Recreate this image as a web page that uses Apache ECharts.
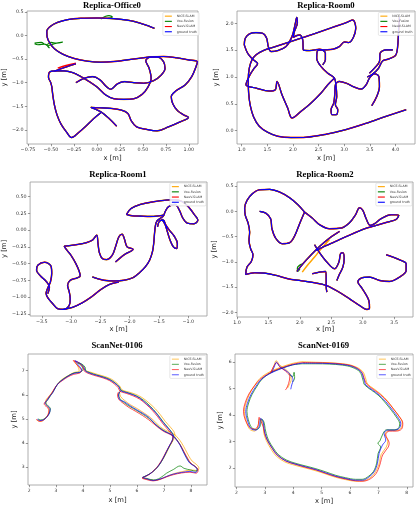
<!DOCTYPE html>
<html><head><meta charset="utf-8">
<script src="https://cdn.jsdelivr.net/npm/echarts@6/dist/echarts.min.js"></script>
<style>html,body{margin:0;padding:0;background:#fff}#c{width:416px;height:506px}</style>
</head><body><div id="c"></div>
<script>
const methods = ['NICE-SLAM','Vox-Fusion','NeuV-SLAM','ground truth'];
const titles = ['Replica-Office0','Replica-Room0','Replica-Room1','Replica-Room2','ScanNet-0106','ScanNet-0169'];

// ---------- tick values ----------
const office0XTicks = [-0.75,-0.5,-0.25,0,0.25,0.5,0.75,1.0];
const office0YTicks = [-2.0,-1.5,-1.0,-0.5,0.0,0.5];
const room0XTicks = [1.0,1.5,2.0,2.5,3.0,3.5,4.0];
const room0YTicks = [0.0,0.5,1.0,1.5,2.0];
const room1XTicks = [-3.5,-3.0,-2.5,-2.0,-1.5,-1.0];
const room1YTicks = [-1.25,-1.0,-0.75,-0.5,-0.25,0,0.25,0.5];
const room2XTicks = [1.0,1.5,2.0,2.5,3.0,3.5];
const room2YTicks = [-2.0,-1.5,-1.0,-0.5,0.0,0.5];
const s0106XTicks = [2,3,4,5,6,7,8];
const s0106YTicks = [3,4,5,6,7];
const s0169XTicks = [2,3,4,5,6,7,8];
const s0169YTicks = [2,3,4,5,6];

// ---------- Replica-Office0 ----------
const office0GT = [
 [[0.626,0.152],[0.510,0.237],[0.366,0.315],[0.186,0.358],[0.006,0.372],[-0.174,0.365],[-0.318,0.337],[-0.426,0.280],[-0.505,0.195],[-0.545,0.088],[-0.541,-0.033],[-0.512,-0.160],[-0.462,-0.281],[-0.372,-0.395],[-0.246,-0.487],[-0.102,-0.544],[0.042,-0.565],[0.186,-0.551],[0.330,-0.516],[0.474,-0.480],[0.600,-0.452],[0.726,-0.445],[0.870,-0.473],[0.996,-0.516],[1.094,-0.558],[1.079,-0.658],[1.032,-0.871],[0.960,-1.048],[0.863,-1.169],[0.809,-1.297],[0.827,-1.453],[0.878,-1.595],[0.950,-1.688],[0.996,-1.737],[0.906,-1.830],[0.780,-1.936],[0.654,-2.021],[0.546,-1.993],[0.431,-1.936],[0.374,-1.808],[0.337,-1.652],[0.265,-1.581],[0.150,-1.545],[0.024,-1.531],[-0.066,-1.524],[0.042,-1.616],[0.132,-1.759],[0.215,-1.922]],
 [[-0.505,-0.984],[-0.491,-1.084],[-0.480,-1.261],[-0.462,-1.474],[-0.433,-1.688],[-0.390,-1.879],[-0.332,-2.043],[-0.275,-2.163],[-0.203,-2.064],[-0.120,-1.922],[-0.037,-1.766],[0.042,-1.638]],
 [[-0.505,-0.984],[-0.527,-0.885],[-0.512,-0.771],[-0.444,-0.750],[-0.354,-0.750],[-0.264,-0.786],[-0.174,-0.871],[-0.084,-0.977],[0.006,-1.098],[0.096,-1.261],[0.186,-1.340],[0.294,-1.354],[0.402,-1.340],[0.492,-1.247],[0.554,-1.098],[0.590,-0.906],[0.568,-0.693],[0.532,-0.537],[0.582,-0.459],[0.662,-0.459],[0.726,-0.558],[0.741,-0.700],[0.698,-0.842],[0.618,-0.956],[0.510,-1.013],[0.402,-0.999],[0.301,-0.977],[0.222,-1.027],[0.150,-1.141],[0.096,-1.070],[0.035,-0.942],[-0.048,-0.871],[-0.138,-0.906],[-0.228,-0.999]],
 [[-0.462,-0.757],[-0.354,-0.679],[-0.228,-0.601]]
];
const office0VoxExtra = [
 [[-0.678,-0.160],[-0.606,-0.146],[-0.552,-0.196],[-0.498,-0.146],[-0.444,-0.160],[-0.372,-0.139],[-0.462,-0.174],[-0.534,-0.232],[-0.516,-0.267],[-0.570,-0.182],[-0.642,-0.196],[-0.678,-0.174]],
 [[0.042,0.351],[0.096,0.408],[0.132,0.422],[0.168,0.394],[0.121,0.365]]
];
const office0NeuVExtra = [
 [[-0.426,-0.693],[-0.336,-0.636],[-0.228,-0.587]]
];

// ---------- Replica-Room0 ----------
const room0GT = [
 [[4.208,0.390],[3.817,0.266],[3.427,0.136],[3.036,0.019],[2.646,-0.068],[2.256,-0.124],[1.963,-0.130],[1.703,-0.105],[1.507,-0.031],[1.345,0.080],[1.234,0.254],[1.169,0.464],[1.137,0.700],[1.130,0.947],[1.150,1.164],[1.202,1.319],[1.280,1.412],[1.423,1.492],[1.638,1.560],[1.898,1.641],[2.191,1.734],[2.483,1.827],[2.776,1.926],[3.036,2.012],[3.167,2.062],[3.225,1.907],[3.180,1.740],[3.089,1.641],[3.004,1.653],[2.906,1.567],[2.776,1.517],[2.614,1.505],[2.483,1.492],[2.464,1.350],[2.548,1.195],[2.679,1.071],[2.809,0.978],[2.841,0.824],[2.854,0.638],[2.828,0.483],[2.874,0.390],[2.841,0.297],[2.763,0.297],[2.744,0.390],[2.796,0.514],[2.815,0.669],[2.828,0.854],[2.906,0.916],[3.036,0.885],[3.199,0.811],[3.329,0.774],[3.427,0.854],[3.492,0.978],[3.589,1.059],[3.674,1.009],[3.687,0.824],[3.635,0.638],[3.537,0.464]],
 [[1.052,1.598],[1.072,1.721],[1.150,1.802],[1.280,1.827],[1.410,1.814],[1.488,1.721],[1.520,1.567],[1.573,1.474],[1.703,1.492],[1.865,1.567],[1.982,1.752],[2.047,2.0],[2.074,2.111],[2.087,2.012],[2.028,1.845],[2.008,1.740],[2.126,1.783],[2.191,1.690],[2.204,1.505],[2.321,1.492],[2.516,1.517],[2.633,1.443],[2.633,1.319],[2.581,1.226]],
 [[1.052,1.598],[1.117,1.443],[1.215,1.331],[1.312,1.245],[1.247,1.164],[1.163,1.040],[1.085,0.854],[1.280,0.793],[1.540,0.737],[1.657,0.762],[1.690,0.916],[1.787,0.669],[1.898,0.421],[1.982,0.235],[2.158,0.359],[2.353,0.514],[2.548,0.700],[2.679,0.854],[2.809,0.978]],
 [[4.077,2.12],[4.06,1.85],[4.04,1.55],[4.0,1.40],[3.85,1.33],[3.75,1.30],[3.66,1.15],[3.55,1.05],[3.45,1.0]],
 [[3.947,1.505],[3.817,1.505],[3.700,1.443],[3.687,1.288],[3.589,1.164],[3.492,1.071]]
];

// ---------- Replica-Room1 ----------
const room1GT = [
 [[-2.055,0.236],[-1.976,0.325],[-1.818,0.385],[-1.593,0.425],[-1.367,0.450],[-1.243,0.455],[-1.096,0.425],[-0.983,0.335],[-0.898,0.236],[-0.836,0.151],[-0.904,0.096],[-1.017,0.106],[-1.096,0.186],[-1.152,0.300],[-1.226,0.385],[-1.339,0.350],[-1.395,0.276],[-1.423,0.216],[-1.480,0.176],[-1.536,0.136],[-1.559,0.076],[-1.576,-0.049],[-1.587,-0.173],[-1.609,-0.313],[-1.660,-0.448],[-1.734,-0.547],[-1.830,-0.632],[-1.942,-0.707],[-2.100,-0.747],[-2.270,-0.757],[-2.439,-0.747],[-2.552,-0.722],[-2.637,-0.697]],
 [[-2.055,0.236],[-1.959,0.216],[-1.818,0.211],[-1.649,0.206],[-1.491,0.216],[-1.423,0.226]],
 [[-1.452,0.166],[-1.395,0.086],[-1.356,-0.024],[-1.310,-0.148],[-1.254,-0.248],[-1.197,-0.273],[-1.186,-0.198],[-1.243,-0.084],[-1.322,0.0],[-1.389,0.086],[-1.423,0.151],[-1.491,0.136],[-1.525,0.051]],
 [[-2.242,-0.473],[-2.089,-0.363],[-1.942,-0.283],[-2.044,-0.248],[-2.089,-0.133],[-2.129,-0.059],[-2.185,-0.099],[-2.242,-0.248],[-2.298,-0.373],[-2.394,-0.438],[-2.467,-0.423],[-2.518,-0.333],[-2.541,-0.198],[-2.563,-0.074],[-2.637,-0.148],[-2.749,-0.188],[-2.891,-0.213],[-3.060,-0.233],[-3.116,-0.238],[-3.071,-0.298],[-3.003,-0.373],[-2.919,-0.498],[-2.862,-0.612],[-2.845,-0.682],[-2.902,-0.712],[-3.015,-0.747],[-3.060,-0.822],[-3.032,-0.921],[-3.015,-1.022],[-3.032,-1.121],[-3.128,-1.181],[-3.229,-1.171],[-3.314,-1.096],[-3.387,-1.021],[-3.427,-0.946],[-3.398,-0.862],[-3.353,-0.772],[-3.331,-0.647],[-3.342,-0.537],[-3.455,-0.478],[-3.568,-0.522],[-3.590,-0.597],[-3.523,-0.682],[-3.427,-0.762],[-3.370,-0.847],[-3.398,-0.946]],
 [[-3.128,-1.181],[-2.975,-1.151],[-2.806,-1.081],[-2.653,-0.995],[-2.495,-0.887],[-2.354,-0.812],[-2.185,-0.772]]
];

// ---------- Replica-Room2 ----------
const room2GT = [
 [[2.075,-0.015],[1.969,0.131],[1.837,0.269],[1.678,0.381],[1.519,0.434],[1.360,0.427],[1.244,0.348],[1.159,0.216],[1.122,0.065],[1.132,-0.080],[1.175,-0.226],[1.201,-0.410],[1.191,-0.575],[1.217,-0.740],[1.254,-0.859],[1.228,-0.991],[1.159,-1.103],[1.138,-1.248],[1.281,-1.215],[1.440,-1.222],[1.625,-1.268],[1.810,-1.334],[2.022,-1.373],[2.234,-1.413],[2.419,-1.466],[2.605,-1.584],[2.790,-1.730],[2.949,-1.862],[3.066,-1.941],[3.108,-1.914],[3.097,-1.763],[3.044,-1.631],[2.976,-1.499],[2.923,-1.400],[2.976,-1.321],[3.108,-1.301],[3.267,-1.367],[3.426,-1.387],[3.585,-1.301],[3.691,-1.169],[3.691,-1.037],[3.611,-0.971],[3.479,-0.905],[3.373,-0.859]],
 [[2.075,-0.015],[2.197,-0.133],[2.314,-0.265],[2.472,-0.344],[2.658,-0.331],[2.790,-0.226],[2.886,-0.067],[2.949,0.071],[3.002,0.018],[3.055,-0.146],[3.119,-0.278],[3.188,-0.245],[3.293,-0.146],[3.452,-0.067],[3.574,-0.080],[3.532,-0.160],[3.399,-0.212],[3.214,-0.278],[3.002,-0.358],[2.843,-0.443],[2.684,-0.529],[2.525,-0.621],[2.367,-0.707],[2.261,-0.773]],
 [[1.360,-0.001],[1.456,-0.034],[1.535,-0.146],[1.556,-0.344],[1.614,-0.529],[1.720,-0.641],[1.837,-0.621],[1.916,-0.489],[1.996,-0.245],[2.075,-0.015]],
 [[1.953,-1.189],[2.049,-1.037],[2.181,-0.859],[2.314,-0.694],[2.472,-0.529],[2.631,-0.397]],
 [[2.197,-1.235],[2.314,-1.202],[2.409,-1.189],[2.419,-1.334],[2.419,-1.499],[2.430,-1.598]],
 [[2.234,-0.661],[2.314,-0.819],[2.430,-1.004],[2.552,-1.136],[2.621,-1.004],[2.647,-0.839],[2.684,-0.819],[2.705,-0.938],[2.684,-1.103],[2.621,-1.268],[2.589,-1.367]]
];
const room2NiceExtra = [
 [[2.038,-1.202],[2.128,-1.057],[2.234,-0.905],[2.340,-0.740],[2.472,-0.555]]
];
const room2VoxExtra = [
 [[2.00,-1.14],[1.97,-1.19],[1.96,-1.12],[2.00,-1.06],[2.05,-1.04]]
];

// ---------- ScanNet-0106 ----------
const s0106GT = [[2.309,4.986],[2.407,4.931],[2.531,4.959],[2.654,5.069],[2.753,5.234],[2.778,5.400],[2.679,5.538],[2.593,5.648],[2.679,5.786],[2.778,5.952],[2.877,6.090],[2.963,6.269],[3.086,6.476],[3.272,6.641],[3.457,6.779],[3.667,6.890],[3.889,6.931],[3.951,7.028],[3.827,7.234],[3.704,7.414],[3.889,7.303],[4.037,7.138],[4.074,7.0],[4.259,6.890],[4.506,6.807],[4.753,6.724],[5.0,6.614],[5.185,6.476],[5.346,6.310],[5.395,6.172],[5.617,6.090],[5.864,5.993],[6.111,5.855],[6.358,5.620],[6.605,5.372],[6.790,5.124],[6.975,4.848],[7.160,4.614],[7.284,4.434],[7.346,4.297],[7.321,4.131],[7.222,3.924],[7.099,3.648],[6.975,3.372],[6.827,3.097],[6.667,2.890],[6.481,2.724],[6.296,2.614],[6.210,2.572],[6.358,2.517],[6.605,2.448],[6.852,2.503],[7.099,2.614],[7.346,2.710],[7.654,2.779],[7.963,2.821],[8.185,2.779],[8.235,2.890],[8.148,3.028],[7.963,3.166],[7.840,3.372],[7.716,3.648],[7.593,3.924],[7.469,4.131],[7.370,4.269],[7.222,4.379],[7.037,4.476],[6.852,4.614],[6.667,4.793],[6.457,5.050],[6.235,5.220],[5.988,5.380],[5.741,5.550],[5.519,5.720],[5.370,5.786],[5.321,5.993],[5.370,6.131]];
const s0106Nice = [[2.28,4.95],[2.45,4.90],[2.62,5.05],[2.74,5.27],[2.74,5.45],[2.63,5.58],[2.62,5.74],[2.75,5.95],[2.90,6.17],[3.02,6.38],[3.20,6.62],[3.43,6.78],[3.66,6.92],[3.86,6.98],[3.80,7.20],[3.68,7.38],[3.86,7.32],[4.02,7.16],[4.07,7.02],[4.30,6.93],[4.55,6.84],[4.80,6.76],[5.05,6.65],[5.23,6.51],[5.38,6.33],[5.45,6.20],[5.68,6.12],[5.93,6.03],[6.18,5.89],[6.43,5.68],[6.68,5.42],[6.87,5.17],[7.05,4.90],[7.24,4.66],[7.38,4.46],[7.41,4.29],[7.34,4.10],[7.22,3.88],[7.10,3.60],[6.96,3.32],[6.80,3.06],[6.63,2.86],[6.44,2.70],[6.25,2.60],[6.20,2.56],[6.40,2.50],[6.65,2.45],[6.90,2.52],[7.15,2.64],[7.40,2.74],[7.70,2.82],[8.02,2.88],[8.24,2.86],[8.30,2.96],[8.22,3.10],[8.05,3.25],[7.93,3.45],[7.80,3.72],[7.66,4.00],[7.53,4.20],[7.42,4.33],[7.27,4.43],[7.08,4.52],[6.88,4.66],[6.70,4.85],[6.50,5.06],[6.27,5.24],[6.02,5.42],[5.77,5.58],[5.55,5.76],[5.40,5.92],[5.36,6.08],[5.42,6.18]];
const s0106Vox = [[2.33,5.00],[2.43,4.96],[2.55,4.99],[2.67,5.10],[2.76,5.26],[2.79,5.42],[2.70,5.55],[2.62,5.66],[2.70,5.80],[2.80,5.97],[2.89,6.12],[2.98,6.30],[3.10,6.50],[3.29,6.67],[3.47,6.80],[3.68,6.91],[3.92,6.95],[4.00,7.06],[3.90,7.25],[3.80,7.32],[3.95,7.28],[4.08,7.14],[4.10,7.01],[4.27,6.91],[4.51,6.82],[4.76,6.74],[5.01,6.63],[5.19,6.49],[5.35,6.33],[5.41,6.19],[5.62,6.10],[5.87,6.01],[6.12,5.87],[6.37,5.66],[6.61,5.39],[6.80,5.14],[6.98,4.87],[7.16,4.63],[7.29,4.45],[7.35,4.31],[7.33,4.14],[7.24,3.93],[7.11,3.66],[6.99,3.39],[6.84,3.11],[6.68,2.90],[6.49,2.73],[6.30,2.62],[6.22,2.58],[6.37,2.53],[6.62,2.47],[6.86,2.55],[7.10,2.75],[7.35,2.90],[7.60,3.05],[7.75,2.95],[8.00,2.88],[8.20,2.83],[8.24,2.92],[8.15,3.04],[7.97,3.18],[7.85,3.39],[7.72,3.66],[7.60,3.94],[7.47,4.15],[7.37,4.28],[7.22,4.39],[7.04,4.49],[6.85,4.63],[6.66,4.81],[6.46,5.01],[6.24,5.18],[5.99,5.35],[5.74,5.51],[5.52,5.68],[5.37,5.84],[5.32,6.01],[5.38,6.14]];
const s0106NeuV = [[2.27,4.99],[2.38,4.90],[2.50,4.93],[2.62,5.03],[2.71,5.20],[2.74,5.37],[2.64,5.51],[2.56,5.62],[2.64,5.76],[2.74,5.92],[2.84,6.06],[2.93,6.24],[3.06,6.44],[3.25,6.60],[3.44,6.74],[3.66,6.85],[3.88,6.90],[3.94,7.00],[3.79,7.22],[3.64,7.42],[3.84,7.33],[4.00,7.15],[4.05,6.98],[4.24,6.87],[4.49,6.78],[4.74,6.70],[4.98,6.59],[5.16,6.45],[5.31,6.29],[5.37,6.15],[5.60,6.06],[5.85,5.96],[6.10,5.82],[6.34,5.61],[6.58,5.34],[6.77,5.09],[6.95,4.82],[7.13,4.58],[7.26,4.40],[7.33,4.26],[7.31,4.10],[7.21,3.90],[7.08,3.63],[6.95,3.35],[6.80,3.08],[6.64,2.87],[6.46,2.70],[6.28,2.59],[6.19,2.55],[6.34,2.49],[6.60,2.43],[6.86,2.49],[7.11,2.60],[7.36,2.69],[7.66,2.76],[7.97,2.79],[8.20,2.75],[8.27,2.86],[8.20,3.00],[8.02,3.14],[7.89,3.35],[7.76,3.62],[7.62,3.90],[7.49,4.10],[7.38,4.24],[7.23,4.36],[7.03,4.46],[6.84,4.60],[6.64,4.78],[6.43,4.97],[6.21,5.14],[5.96,5.31],[5.71,5.47],[5.49,5.65],[5.33,5.81],[5.28,5.99],[5.32,6.12]];

// ---------- ScanNet-0169 ----------
const s0169GT = [
 [[4.325,5.962],[4.794,5.962],[5.264,5.950],[5.734,5.912],[6.086,5.836],[6.379,5.647],[6.497,5.331],[6.556,5.142],[6.790,4.953],[7.025,4.763],[7.260,4.511],[7.495,4.196],[7.671,3.943],[7.788,3.691],[7.730,3.502],[7.554,3.438],[7.319,3.438],[7.201,3.312],[7.260,3.060],[7.143,2.871],[7.025,2.555],[6.967,2.177],[6.849,1.861],[6.673,1.672],[6.438,1.546],[6.203,1.546],[5.851,1.609],[5.499,1.697],[5.147,1.823],[4.794,1.949],[4.442,2.050],[4.090,2.151],[3.738,2.278],[3.444,2.492],[3.268,2.744],[3.092,3.060],[3.010,3.312],[2.975,3.502],[2.939,3.754],[2.857,3.880],[2.798,3.565],[2.681,3.438],[2.505,3.502],[2.387,3.817],[2.329,4.133],[2.387,4.448],[2.505,4.763],[2.681,5.079],[2.857,5.331],[3.092,5.521],[3.327,5.647],[3.620,5.773],[3.973,5.899],[4.325,5.962]],
 [[3.245,5.609],[3.327,5.811],[3.409,6.0],[3.526,5.836],[3.738,5.685],[3.914,5.521],[3.996,5.331],[3.949,5.142],[3.914,4.978]]
];
const s0169Nice = [
 [[4.30,6.02],[4.78,6.00],[5.26,5.98],[5.75,5.94],[6.12,5.86],[6.44,5.66],[6.56,5.36],[6.62,5.18],[6.85,4.99],[7.08,4.80],[7.31,4.55],[7.54,4.23],[7.72,3.97],[7.84,3.72],[7.79,3.50],[7.60,3.42],[7.36,3.42],[7.24,3.28],[7.33,3.02],[7.28,2.80],[7.10,2.52],[7.02,2.15],[6.88,1.82],[6.70,1.63],[6.45,1.52],[6.20,1.51],[5.84,1.57],[5.48,1.66],[5.12,1.79],[4.77,1.91],[4.42,2.01],[4.06,2.11],[3.70,2.24],[3.40,2.46],[3.22,2.72],[3.05,3.05],[2.97,3.30],[2.95,3.50],[2.92,3.75],[2.82,3.86],[2.75,3.55],[2.64,3.40],[2.46,3.48],[2.34,3.82],[2.28,4.14],[2.34,4.46],[2.46,4.79],[2.64,5.12],[2.82,5.38],[3.06,5.57],[3.30,5.70],[3.61,5.83],[3.96,5.95],[4.30,6.02]],
 [[3.22,5.62],[3.32,5.86],[3.40,6.06],[3.52,5.90],[3.72,5.74],[3.88,5.57],[3.93,5.35],[3.86,5.15],[3.80,5.02]]
];
const s0169Vox = [
 [[4.32,5.94],[4.80,5.94],[5.27,5.93],[5.73,5.89],[6.07,5.81],[6.35,5.63],[6.46,5.32],[6.51,5.15],[6.75,4.95],[6.99,4.76],[7.22,4.50],[7.46,4.18],[7.63,3.93],[7.75,3.68],[7.70,3.50],[7.52,3.45],[7.29,3.45],[7.17,3.32],[7.05,3.02],[6.98,2.95],[7.08,2.80],[6.99,2.55],[6.94,2.19],[6.83,1.88],[6.66,1.70],[6.43,1.58],[6.20,1.58],[5.85,1.64],[5.50,1.73],[5.15,1.86],[4.80,1.98],[4.45,2.08],[4.10,2.18],[3.76,2.31],[3.47,2.52],[3.30,2.76],[3.13,3.06],[3.05,3.31],[3.01,3.50],[2.97,3.74],[2.89,3.86],[2.83,3.57],[2.71,3.46],[2.54,3.53],[2.42,3.83],[2.37,4.14],[2.43,4.46],[2.55,4.78],[2.73,5.10],[2.90,5.36],[3.13,5.55],[3.36,5.68],[3.64,5.79],[3.98,5.90],[4.32,5.94]],
 [[3.85,5.55],[3.98,5.45],[4.03,5.62],[4.05,5.40],[3.98,5.25]]
];
const s0169NeuV = [
 [[4.33,5.99],[4.80,5.98],[5.27,5.97],[5.74,5.93],[6.10,5.85],[6.40,5.65],[6.52,5.33],[6.60,5.16],[6.83,4.97],[7.07,4.78],[7.31,4.53],[7.55,4.21],[7.73,3.96],[7.86,3.70],[7.82,3.48],[7.63,3.40],[7.38,3.40],[7.26,3.26],[7.38,2.95],[7.35,2.80],[7.15,2.50],[7.05,2.12],[6.92,1.80],[6.72,1.60],[6.46,1.51],[6.21,1.52],[5.86,1.59],[5.51,1.68],[5.16,1.80],[4.81,1.93],[4.45,2.03],[4.10,2.14],[3.74,2.27],[3.43,2.50],[3.26,2.75],[3.08,3.07],[2.99,3.32],[2.95,3.55],[2.85,3.80],[2.80,3.92],[2.76,3.60],[2.64,3.47],[2.45,3.56],[2.30,3.86],[2.25,4.15],[2.31,4.47],[2.44,4.80],[2.63,5.10],[2.83,5.35],[3.08,5.54],[3.32,5.68],[3.62,5.80],[3.97,5.92],[4.33,5.99]],
 [[3.20,5.58],[3.30,5.82],[3.42,5.98],[3.55,5.80],[3.74,5.66],[3.88,5.45],[3.84,5.20],[3.76,5.00],[3.72,4.95]]
];

// ---------- layout (positions / styles only) ----------
const panels = [
 {grid:{left:26,top:11,width:172,height:133}, x:[-0.76,1.10], y:[-2.30,0.52], xt:office0XTicks, yt:office0YTicks, xd:2, yd:1, tx:112, ty:1, xg:10.5, yg:16.5, lg:{right:217,top:12.5}, scan:false,
  segs:[office0GT, office0GT.concat(office0VoxExtra), office0GT.concat(office0NeuVExtra), office0GT]},
 {grid:{left:237,top:11,width:178,height:133}, x:[0.91,4.38], y:[-0.25,2.23], xt:room0XTicks, yt:room0YTicks, xd:1, yd:1, tx:326, ty:1, xg:10.5, yg:17.5, lg:{right:1.5,top:12.5}, scan:false,
  segs:[room0GT, room0GT, room0GT, room0GT]},
 {grid:{left:29,top:182,width:178,height:134}, x:[-3.70,-0.68], y:[-1.28,0.72], xt:room1XTicks, yt:room1YTicks, xd:1, yd:2, tx:118, ty:170, xg:10, yg:20.5, lg:{right:210,top:183}, scan:false,
  segs:[room1GT, room1GT, room1GT, room1GT]},
 {grid:{left:237,top:182,width:176,height:135}, x:[1.0,3.80], y:[-2.09,0.58], xt:room2XTicks, yt:room2YTicks, xd:1, yd:1, tx:325, ty:170, xg:9, yg:18, lg:{right:4,top:183}, scan:false,
  segs:[room2GT.concat(room2NiceExtra), room2GT.concat(room2VoxExtra), room2GT, room2GT]},
 {grid:{left:28,top:354,width:179,height:131}, x:[1.96,8.6], y:[2.26,7.69], xt:s0106XTicks, yt:s0106YTicks, xd:0, yd:0, tx:117, ty:341.5, xg:11.5, yg:9.5, lg:{right:210,top:355.5}, scan:true,
  segs:[[s0106Nice],[s0106Vox],[s0106NeuV],[s0106GT]]},
 {grid:{left:235,top:354,width:178,height:133}, x:[1.95,8.22], y:[1.29,6.31], xt:s0169XTicks, yt:s0169YTicks, xd:0, yd:0, tx:323.5, ty:341.5, xg:10.5, yg:10.8, lg:{right:3,top:355.5}, scan:true,
  segs:[s0169Nice, s0169Vox, s0169NeuV, s0169GT]}
];
const colors = ['#FFA500','#008000','#FF0000','#0000FF'];
const widthsReplica = [1.5,1.2,1.4,1.05];
const fmt = d => v => (v < 0 ? '\u2212' : '') + Math.abs(v).toFixed(d);

const option = {animation:false, backgroundColor:'#fff', grid:[], xAxis:[], yAxis:[], series:[], title:[], legend:[]};
panels.forEach((p, gi) => {
  option.grid.push(Object.assign({show:true, borderColor:'#9a9a9a', borderWidth:0.8, backgroundColor:'transparent'}, p.grid));
  const tickStyle = {show:true, length:2.2, lineStyle:{color:'#555', width:0.6}};
  option.xAxis.push({gridIndex:gi, type:'value', min:p.x[0], max:p.x[1], scale:true, position:'bottom',
    axisLine:{show:false, onZero:false}, splitLine:{show:false},
    axisTick:Object.assign({customValues:p.xt}, tickStyle),
    axisLabel:{customValues:p.xt, formatter:fmt(p.xd), fontSize:p.scan?4.5:4.8, color:'#333', margin:3.2, fontFamily:'DejaVu Sans'},
    name:'x [m]', nameLocation:'middle', nameGap:p.xg, nameTextStyle:{fontSize:6.8, color:'#222', fontFamily:'DejaVu Sans'}});
  option.yAxis.push({gridIndex:gi, type:'value', min:p.y[0], max:p.y[1], scale:true, position:'left',
    axisLine:{show:false, onZero:false}, splitLine:{show:false},
    axisTick:Object.assign({customValues:p.yt}, tickStyle),
    axisLabel:{customValues:p.yt, formatter:fmt(p.yd), fontSize:p.scan?4.5:4.8, color:'#333', margin:3.5, fontFamily:'DejaVu Sans'},
    name:'y [m]', nameLocation:'middle', nameGap:p.yg, nameRotate:90, nameTextStyle:{fontSize:6.8, color:'#222', fontFamily:'DejaVu Sans'}});
  option.title.push({text:titles[gi], left:p.tx, top:p.ty, textAlign:'center', padding:0,
    textStyle:{fontFamily:'Liberation Serif', fontWeight:'bold', fontSize:8.7, color:'#000'}});
  option.legend.push(Object.assign({orient:'vertical', icon:'rect', itemWidth:7, itemHeight:1.1, itemGap:1.1,
    padding:[1.6,2,1.6,2], borderColor:'#cfcfcf', borderWidth:0.5, borderRadius:1, backgroundColor:'rgba(255,255,255,0.85)',
    selectedMode:false, data:methods, z:20,
    itemStyle:{opacity:p.scan?0.6:1},
    textStyle:{fontSize:3.2, lineHeight:4.1, color:'#333', fontFamily:'DejaVu Sans'}}, p.lg));
  methods.forEach((m, mi) => {
    p.segs[mi].forEach(seg => {
      option.series.push({type:'line', name:m, xAxisIndex:gi, yAxisIndex:gi, data:seg,
        symbol:'none', showSymbol:false, smooth:0.35, z:2+mi, silent:true,
        itemStyle:{color:colors[mi]},
        lineStyle:{color:colors[mi], width:p.scan?1.0:widthsReplica[mi], opacity:p.scan?0.7:1}});
    });
  });
});
const chart = echarts.init(document.getElementById('c'), null, {renderer:'canvas'});
chart.setOption(option);
</script></body></html>
